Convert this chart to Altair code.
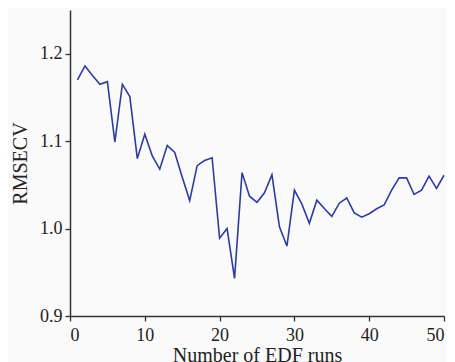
import altair as alt
import pandas as pd

runs = list(range(1, 51))
rmsecv = [1.170, 1.186, 1.175, 1.165, 1.168, 1.099, 1.165, 1.151, 1.080, 1.108,
          1.083, 1.068, 1.095, 1.087, 1.059, 1.032, 1.072, 1.078, 1.081, 0.989,
          1.000, 0.943, 1.064, 1.037, 1.030, 1.041, 1.0615, 1.002, 0.980, 1.044,
          1.028, 1.006, 1.0325, 1.023, 1.014, 1.029, 1.035, 1.018, 1.013, 1.017,
          1.0226, 1.027, 1.044, 1.058, 1.058, 1.039, 1.044, 1.060, 1.046, 1.061]
x_ticks = [0, 10, 20, 30, 40, 50]
y_ticks = [0.9, 1.0, 1.1, 1.2]

df = pd.DataFrame({"run": runs, "rmsecv": rmsecv})

font = "Liberation Serif"

chart = alt.Chart(df).mark_line(color="#2f3c9c", strokeWidth=1.6).encode(
    x=alt.X("run:Q", scale=alt.Scale(domain=[0, 50], nice=False, zero=False),
            axis=alt.Axis(title="Number of EDF runs", values=x_ticks, grid=False,
                          tickSize=5, labelPadding=5, titlePadding=1,
                          labelFont=font, titleFont=font, labelFontSize=18,
                          titleFontSize=20, titleFontWeight="normal",
                          labelColor="#222", titleColor="#222",
                          domainColor="#333", tickColor="#333",
                          domainWidth=1.5, tickWidth=1.3)),
    y=alt.Y("rmsecv:Q", scale=alt.Scale(domain=[0.9, 1.25], nice=False, zero=False),
            axis=alt.Axis(title="RMSECV", values=y_ticks, format=".1f", grid=False,
                          tickSize=5, labelPadding=3, titlePadding=9,
                          labelFont=font, titleFont=font, labelFontSize=18,
                          titleFontSize=20, titleFontWeight="normal",
                          labelColor="#222", titleColor="#222",
                          domainColor="#333", tickColor="#333",
                          domainWidth=1.5, tickWidth=1.3)),
).properties(
    width=374, height=306,
    autosize=alt.AutoSizeParams(type="none"),
    padding={"left": 62, "top": 2, "right": 3, "bottom": 46},
    background="#fafafa",
).configure_view(stroke=None)

chart.save("out.html", embed_options={"renderer": "svg", "actions": False})
